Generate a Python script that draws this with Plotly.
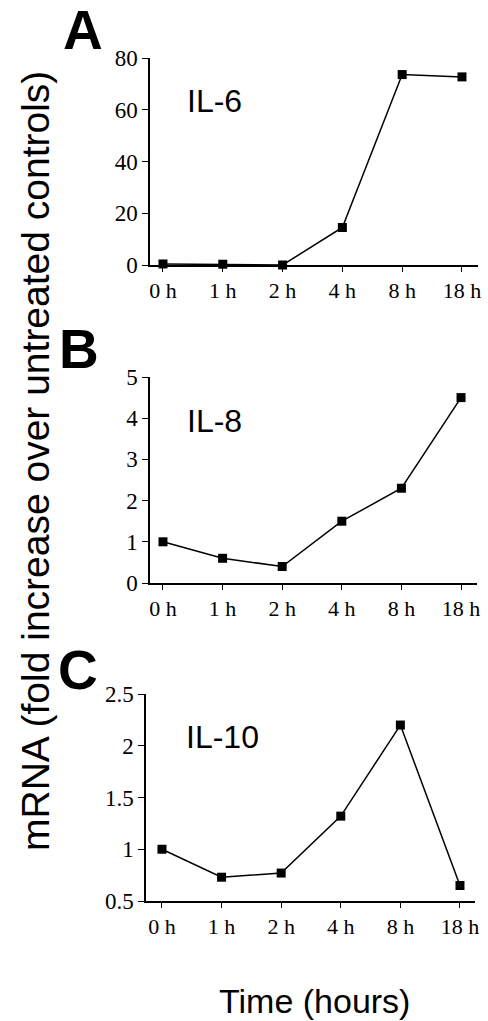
import plotly.graph_objects as go

times = ["0 h", "1 h", "2 h", "4 h", "8 h", "18 h"]
il6 = [0.4, 0.3, 0.0, 14.5, 73.6, 72.7]
il8 = [1.0, 0.6, 0.4, 1.5, 2.3, 4.5]
il10 = [1.0, 0.73, 0.77, 1.32, 2.2, 0.65]

il6_ticks = [0, 20, 40, 60, 80]
il8_ticks = [0, 1, 2, 3, 4, 5]
il10_ticks = [0.5, 1, 1.5, 2, 2.5]
il10_ticktext = ["0.5", "1", "1.5", "2", "2.5"]

W, H = 488, 1021

def px_x(p):
    return p / W

def px_y(p):
    return 1 - p / H

fig = go.Figure()

panels = [
    dict(name="IL-6", y=il6, xa="x", ya="y", xd=(150, 478), yd=(58, 265), yr=[0, 80],
         xr=[-0.217, 5.268], tv=il6_ticks, tt=[str(v) for v in il6_ticks],
         letter="A", lpos=(83, 30), npos=(214, 101)),
    dict(name="IL-8", y=il8, xa="x2", ya="y2", xd=(150, 477), yd=(377, 583), yr=[0, 5],
         xr=[-0.218, 5.268], tv=il8_ticks, tt=[str(v) for v in il8_ticks],
         letter="B", lpos=(79, 349), npos=(214, 421)),
    dict(name="IL-10", y=il10, xa="x3", ya="y3", xd=(146, 475), yd=(694, 901), yr=[0.5, 2.5],
         xr=[-0.268, 5.252], tv=il10_ticks, tt=il10_ticktext,
         letter="C", lpos=(78, 670), npos=(222, 737)),
]

layout = dict(
    width=W, height=H,
    margin=dict(l=0, r=0, t=0, b=0, pad=0),
    paper_bgcolor="white", plot_bgcolor="white",
    showlegend=False,
)

annotations = []
for i, p in enumerate(panels):
    fig.add_trace(go.Scatter(
        x=times, y=p["y"], xaxis=p["xa"], yaxis=p["ya"],
        mode="lines+markers",
        line=dict(color="black", width=1.5),
        marker=dict(symbol="square", size=9, color="black"),
        cliponaxis=False,
    ))
    suffix = "" if i == 0 else str(i + 1)
    layout["xaxis" + suffix] = dict(
        domain=[px_x(p["xd"][0]), px_x(p["xd"][1])],
        anchor="y" + suffix,
        type="category",
        categoryorder="array", categoryarray=times,
        range=p["xr"], automargin=False,
        showline=True, linecolor="black", linewidth=1.5,
        ticks="outside", ticklen=5, tickwidth=1.2, tickcolor="black",
        showgrid=False, zeroline=False,
        tickfont=dict(family="Liberation Serif", size=22, color="black"),
    )
    layout["yaxis" + suffix] = dict(
        domain=[px_y(p["yd"][1]), px_y(p["yd"][0])],
        anchor="x" + suffix,
        range=p["yr"], automargin=False,
        tickvals=p["tv"], ticktext=p["tt"],
        showline=True, linecolor="black", linewidth=1.5,
        ticks="outside", ticklen=6, tickwidth=1.2, tickcolor="black",
        showgrid=False, zeroline=False,
        tickfont=dict(family="Liberation Serif", size=23, color="black"),
    )
    annotations.append(dict(
        text="<b>" + p["letter"] + "</b>", xref="paper", yref="paper",
        x=px_x(p["lpos"][0]), y=px_y(p["lpos"][1]), xanchor="center", yanchor="middle",
        showarrow=False, font=dict(family="Liberation Sans", size=55, color="black"),
    ))
    annotations.append(dict(
        text=p["name"], xref="paper", yref="paper",
        x=px_x(p["npos"][0]), y=px_y(p["npos"][1]), xanchor="center", yanchor="middle",
        showarrow=False, font=dict(family="Liberation Sans", size=32, color="black"),
    ))

annotations.append(dict(
    text="mRNA (fold increase over untreated controls)", xref="paper", yref="paper",
    x=px_x(35), y=px_y(461), xanchor="center", yanchor="middle", textangle=-90,
    showarrow=False, font=dict(family="Liberation Sans", size=39, color="black"),
))
annotations.append(dict(
    text="Time (hours)", xref="paper", yref="paper",
    x=px_x(314), y=px_y(1001), xanchor="center", yanchor="middle",
    showarrow=False, font=dict(family="Liberation Sans", size=34, color="black"),
))
layout["annotations"] = annotations

fig.update_layout(**layout)
fig.write_html(
    "out.html",
    config={"displayModeBar": False},
    post_script="document.body.style.margin='0';document.body.style.padding='0';document.body.style.overflow='hidden';",
)
